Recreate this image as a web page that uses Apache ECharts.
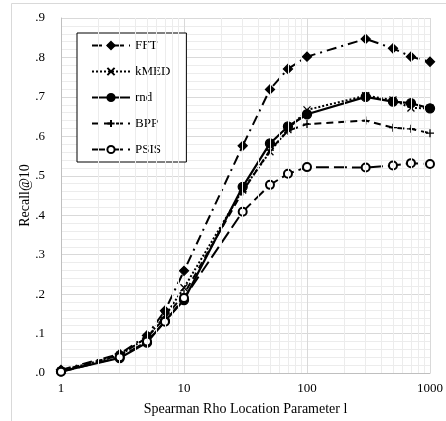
<!DOCTYPE html>
<html>
<head>
<meta charset="utf-8">
<script src="https://cdn.jsdelivr.net/npm/echarts@6/dist/echarts.min.js"></script>
<style>
  html, body { margin: 0; padding: 0; background: #fff; }
  #chart { width: 446px; height: 421px; }
</style>
</head>
<body>
<div id="chart"></div>
<script>
var xVals = [1, 3, 5, 7, 10, 30, 50, 70, 100, 300, 500, 700, 1000];
var fft  = [0.008, 0.048, 0.095, 0.158, 0.259, 0.576, 0.719, 0.771, 0.802, 0.847, 0.823, 0.802, 0.789];
var kmed = [0.005, 0.045, 0.090, 0.145, 0.216, 0.464, 0.561, 0.617, 0.667, 0.703, 0.692, 0.672, 0.671];
var rnd  = [0.004, 0.038, 0.077, 0.132, 0.185, 0.472, 0.582, 0.625, 0.656, 0.700, 0.688, 0.684, 0.671];
var bpp  = [0.006, 0.045, 0.090, 0.140, 0.200, 0.460, 0.565, 0.614, 0.631, 0.640, 0.622, 0.619, 0.608];
var psis = [0.003, 0.040, 0.080, 0.130, 0.190, 0.409, 0.477, 0.505, 0.522, 0.521, 0.526, 0.532, 0.530];
var minorX = [2, 3, 4, 5, 6, 7, 8, 9, 20, 30, 40, 50, 60, 70, 80, 90, 200, 300, 400, 500, 600, 700, 800, 900];

var font = '"Liberation Serif", "Times New Roman", serif';
var myChart = echarts.init(document.getElementById('chart'));

function pairs(ys) {
  return xVals.map(function (x, i) { return [x, ys[i]]; });
}

function mkSeries(name, ys, symbol, size, dash, width) {
  return {
    name: name,
    type: 'line',
    data: pairs(ys),
    symbol: symbol,
    symbolSize: size,
    symbolKeepAspect: true,
    showAllSymbol: true,
    lineStyle: { color: '#000', width: width, type: dash },
    itemStyle: { color: '#000', borderColor: '#000', borderWidth: 1.3 },
    emphasis: { disabled: true },
    z: 3
  };
}

var crossPath = 'path://M0,0L10,10M10,0L0,10';
var plusPath = 'path://M5,0L5,10M0,5L10,5';

var series = [
  mkSeries('FFT', fft, 'diamond', 9, [10, 5, 2, 5], 2),
  mkSeries('kMED', kmed, crossPath, 7, [2, 2], 2),
  mkSeries('rnd', rnd, 'circle', 9, 'solid', 2.2),
  mkSeries('BPP', bpp, plusPath, 8, [7, 5], 2),
  mkSeries('PSIS', psis, 'emptyCircle', 8, [13, 5], 2)
];

// minor vertical grid lines for the log axis
series.push({
  type: 'line',
  data: [],
  silent: true,
  z: 1,
  markLine: {
    silent: true,
    symbol: 'none',
    label: { show: false },
    lineStyle: { color: '#ececec', width: 1, type: 'solid' },
    data: minorX.map(function (v) { return { xAxis: v }; })
  }
});

var option = {
  animation: false,
  backgroundColor: '#fff',
  graphic: [{
    type: 'rect',
    shape: { x: 11.5, y: 3.5, width: 600, height: 600 },
    style: { fill: 'none', stroke: '#d9d9d9', lineWidth: 1 },
    silent: true
  }],
  grid: { left: 61, right: 14, top: 18, bottom: 48 },
  legend: {
    orient: 'vertical',
    left: 77,
    top: 33,
    data: ['FFT', 'kMED', 'rnd', 'BPP', 'PSIS'],
    itemWidth: 38,
    itemHeight: 9,
    itemGap: 11,
    padding: [5, 16, 5, 14],
    borderColor: '#000',
    borderWidth: 1,
    backgroundColor: '#fff',
    textStyle: { fontFamily: font, fontSize: 13, color: '#000', lineHeight: 15 }
  },
  xAxis: {
    type: 'log',
    logBase: 10,
    min: 1,
    max: 1000,
    name: 'Spearman Rho Location Parameter l',
    nameLocation: 'middle',
    nameGap: 29,
    nameMoveOverlap: false,
    nameTextStyle: { fontFamily: font, fontSize: 14, color: '#000' },
    axisLine: { lineStyle: { color: '#bfbfbf' } },
    axisTick: { show: false },
    axisLabel: {
      fontFamily: font, fontSize: 13, color: '#000', margin: 9,
      formatter: function (v) { return String(v); }
    },
    splitLine: { show: true, lineStyle: { color: '#d9d9d9' } }
  },
  yAxis: {
    type: 'value',
    min: 0,
    max: 0.9,
    interval: 0.1,
    name: 'Recall@10',
    nameLocation: 'middle',
    nameGap: 29,
    nameMoveOverlap: false,
    nameTextStyle: { fontFamily: font, fontSize: 14, color: '#000' },
    axisLine: { show: true, lineStyle: { color: '#bfbfbf' } },
    axisTick: { show: false },
    axisLabel: {
      fontFamily: font, fontSize: 13, color: '#000', margin: 16,
      formatter: function (v) { return v.toFixed(1).replace(/^0/, ''); }
    },
    splitLine: { show: true, lineStyle: { color: '#d9d9d9' } },
    minorTick: { show: false, splitNumber: 5 },
    minorSplitLine: { show: true, lineStyle: { color: '#ececec' } }
  },
  series: series
};

myChart.setOption(option);
</script>
</body>
</html>
